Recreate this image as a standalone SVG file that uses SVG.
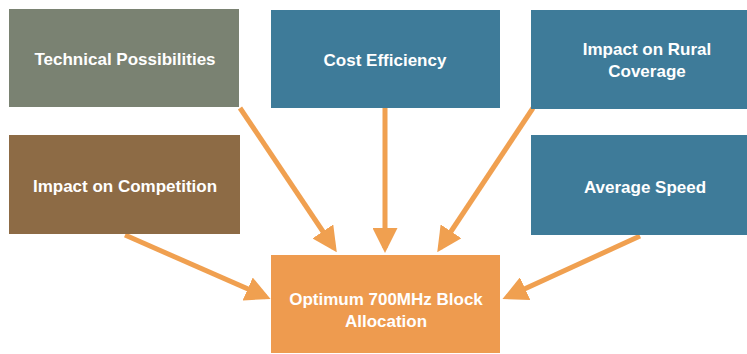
<svg xmlns="http://www.w3.org/2000/svg" width="747" height="354" viewBox="0 0 747 354">
  <style>
    .lbl { font-family: "Liberation Sans", Arial, sans-serif; font-weight: bold; font-size: 17px; fill: #ffffff; text-anchor: middle; }
    .gray { fill: #7a8272; }
    .blue { fill: #3e7b99; }
    .brown { fill: #8d6b45; }
    .orange { fill: #ee9b4f; }
    .conn { stroke: #f0a050; stroke-width: 5; fill: none; marker-end: url(#head); }
  </style>
  <defs>
    <marker id="head" markerWidth="5" markerHeight="5" refX="4" refY="2.5" orient="auto" markerUnits="strokeWidth">
      <path d="M0,0 L5,2.5 L0,5 Z" fill="#f0a050"/>
    </marker>
  </defs>
  <rect width="747" height="354" fill="#ffffff"/>

  <g id="connectors">
    <line class="conn" x1="240" y1="108" x2="334" y2="248"/>
    <line class="conn" x1="385" y1="108" x2="385" y2="248"/>
    <line class="conn" x1="533" y1="108" x2="440" y2="248"/>
    <line class="conn" x1="125" y1="235" x2="266" y2="297"/>
    <line class="conn" x1="640" y1="236" x2="507" y2="297"/>
  </g>

  <g id="technical">
    <rect class="gray" x="9" y="9" width="230" height="98"/>
    <text class="lbl" x="125" y="65">Technical Possibilities</text>
  </g>
  <g id="cost">
    <rect class="blue" x="271" y="10" width="229" height="98"/>
    <text class="lbl" x="385" y="66">Cost Efficiency</text>
  </g>
  <g id="rural">
    <rect class="blue" x="531" y="10" width="230" height="99"/>
    <text class="lbl" x="647" y="55">Impact on Rural</text>
    <text class="lbl" x="647" y="77">Coverage</text>
  </g>
  <g id="competition">
    <rect class="brown" x="9" y="135" width="231" height="99"/>
    <text class="lbl" x="125" y="192">Impact on Competition</text>
  </g>
  <g id="speed">
    <rect class="blue" x="531" y="135" width="230" height="100"/>
    <text class="lbl" x="645" y="193">Average Speed</text>
  </g>
  <g id="allocation">
    <rect class="orange" x="271" y="255" width="229" height="98"/>
    <text class="lbl" x="386" y="305">Optimum 700MHz Block</text>
    <text class="lbl" x="386" y="327">Allocation</text>
  </g>
</svg>
